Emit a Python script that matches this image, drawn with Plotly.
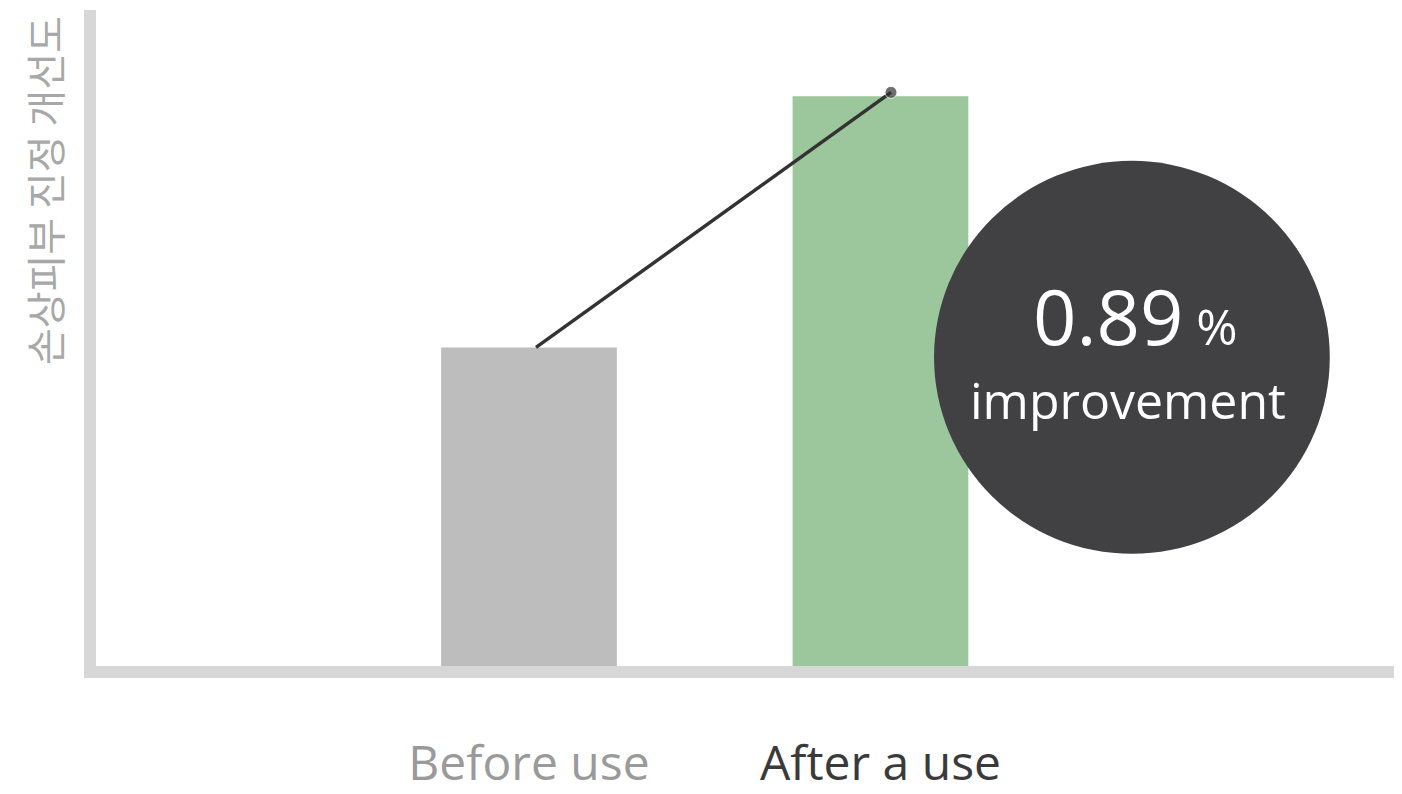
import plotly.graph_objects as go

# ─── Data ────────────────────────────────────────────────────────────────────
categories = ["Before use", "After a use"]
cat_pos = [0, 1]
values = [3.21, 5.74]
trend_x = [0.02, 1.03]
trend_y = [3.21, 5.78]
improvement_value = "0.89"
improvement_label = "improvement"
y_title = "손상피부 진정 개선도"

COLORS = {
    "before": "#bdbdbd",
    "after": "#9cc69c",
    "axis": "#d7d7d7",
    "dark": "#414143",
    "line": "#333333",
    "title": "#a8a8a8",
    "lbl_before": "#9a9a9a",
    "lbl_after": "#3a3a3a",
}

fig = go.Figure()

fig.add_trace(go.Bar(
    x=cat_pos,
    y=values,
    width=0.5,
    marker=dict(color=[COLORS["before"], COLORS["after"]], line=dict(width=0)),
    hoverinfo="skip",
))

fig.add_trace(go.Scatter(
    x=trend_x,
    y=trend_y,
    mode="lines+markers",
    line=dict(color=COLORS["line"], width=3.5),
    marker=dict(size=[0, 12], color=COLORS["line"]),
    hoverinfo="skip",
))

# badge circle
cx, cy, rx, ry = 1.7155, 3.11, 0.563, 1.98
fig.add_shape(
    type="circle", xref="x", yref="y",
    x0=cx - rx, x1=cx + rx, y0=cy - ry, y1=cy + ry,
    fillcolor=COLORS["dark"], line=dict(width=0), layer="above",
)
fig.add_annotation(
    x=cx + 0.01, y=3.53, xref="x", yref="y", showarrow=False,
    text=f"{improvement_value}<span style='font-size:50px'> %</span>",
    font=dict(family="Open Sans", size=76, color="white"),
)
fig.add_annotation(
    x=cx - 0.01, y=2.68, xref="x", yref="y", showarrow=False,
    text=improvement_label,
    font=dict(family="Open Sans", size=50, color="white"),
)

# y title at top of axis
fig.add_annotation(
    x=-0.0398, y=0.993, xref="paper", yref="paper",
    xanchor="center", yanchor="top", showarrow=False,
    text=y_title, textangle=-90,
    font=dict(family="Noto Sans CJK KR", size=40, color=COLORS["title"]),
)

ticktext = [
    f"<span style='color:{COLORS['lbl_before']}'>{categories[0]}</span>",
    f"<span style='color:{COLORS['lbl_after']}'>{categories[1]}</span>",
]

# page body has an 8px margin, so the figure is 8px smaller than the window
fig.update_layout(
    width=1394, height=786,
    paper_bgcolor="white",
    plot_bgcolor="white",
    showlegend=False,
    margin=dict(l=88, r=0, t=2, b=123),
    xaxis=dict(
        range=[-1.232, 2.484],
        tickvals=cat_pos,
        ticktext=ticktext,
        tickfont=dict(family="Open Sans", size=48),
        showgrid=False, zeroline=False,
        showline=True, linecolor=COLORS["axis"], linewidth=12,
        ticks="", ticklabelstandoff=44,
        fixedrange=True,
    ),
    yaxis=dict(
        range=[0, 6.61],
        showticklabels=False, showgrid=False, zeroline=False,
        showline=True, linecolor=COLORS["axis"], linewidth=12,
        ticks="",
        fixedrange=True,
    ),
)

fig.write_html("out.html")
